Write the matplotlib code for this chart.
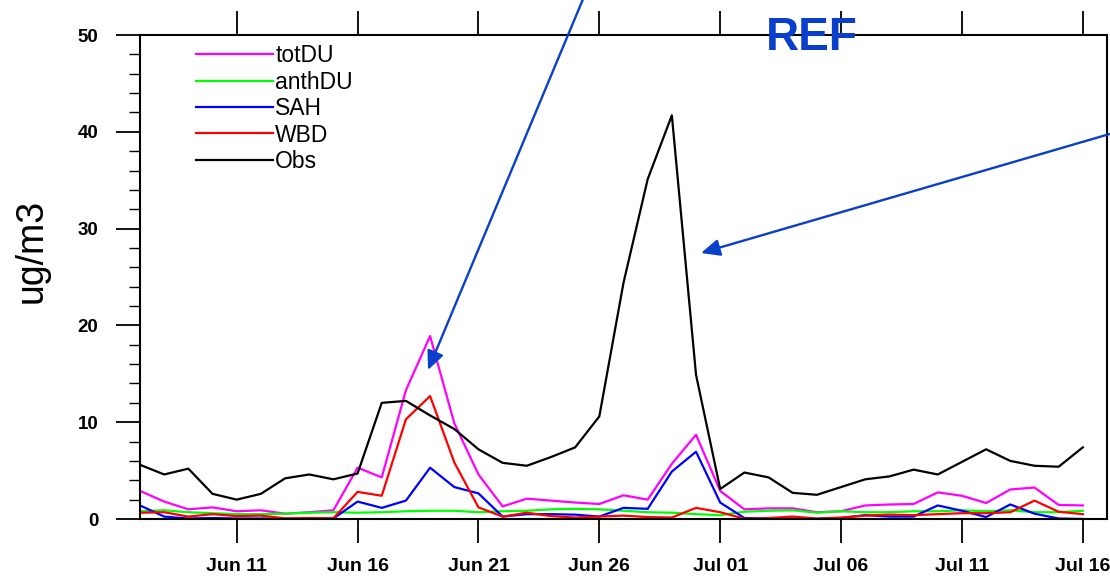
import matplotlib
matplotlib.use("Agg")
import matplotlib.pyplot as plt
import matplotlib.dates as mdates
import numpy as np
import pandas as pd

plt.rcParams['font.family'] = ['Liberation Sans', 'DejaVu Sans']

# daily values, Jun 07 .. Jul 16
dates = pd.date_range("2012-06-07", periods=40, freq="D")

obs = [5.6, 4.6, 5.2, 2.6, 2.0, 2.6, 4.2, 4.6, 4.1, 4.7,
       12.0, 12.2, 10.7, 9.3, 7.2, 5.8, 5.5, 6.4, 7.4, 10.6,
       24.4, 35.1, 41.7, 14.9, 3.1, 4.8, 4.3, 2.7, 2.5, 3.3,
       4.1, 4.4, 5.1, 4.6, 5.9, 7.2, 6.0, 5.5, 5.4, 7.4]
totdu = [2.9, 1.8, 1.0, 1.2, 0.8, 0.9, 0.55, 0.7, 0.9, 5.3,
         4.3, 13.3, 18.9, 9.9, 4.6, 1.3, 2.1, 1.9, 1.7, 1.55,
         2.45, 2.0, 5.7, 8.7, 2.9, 1.0, 1.1, 1.1, 0.7, 0.8,
         1.4, 1.5, 1.55, 2.75, 2.4, 1.65, 3.05, 3.25, 1.45, 1.4]
anthdu = [0.8, 0.9, 0.7, 0.6, 0.5, 0.5, 0.55, 0.65, 0.7, 0.65,
          0.7, 0.8, 0.85, 0.85, 0.7, 0.8, 0.85, 1.0, 1.05, 1.0,
          0.85, 0.7, 0.65, 0.5, 0.4, 0.75, 0.85, 0.9, 0.65, 0.8,
          0.7, 0.7, 0.8, 0.8, 0.9, 0.8, 0.9, 0.7, 0.7, 0.85]
sah = [1.4, 0.25, 0.05, 0.1, 0.05, 0.05, 0.02, 0.0, 0.05, 1.8,
       1.15, 1.9, 5.3, 3.3, 2.65, 0.25, 0.5, 0.5, 0.45, 0.25,
       1.15, 1.05, 4.9, 6.95, 1.7, 0.1, 0.05, 0.05, 0.0, 0.1,
       0.4, 0.25, 0.25, 1.4, 0.85, 0.2, 1.5, 0.55, 0.05, 0.0]
wbd = [0.65, 0.7, 0.25, 0.5, 0.3, 0.35, 0.07, 0.1, 0.07, 2.8,
       2.4, 10.3, 12.7, 5.85, 1.2, 0.25, 0.65, 0.3, 0.15, 0.25,
       0.35, 0.2, 0.15, 1.15, 0.7, 0.03, 0.1, 0.25, 0.05, 0.15,
       0.35, 0.45, 0.4, 0.5, 0.6, 0.6, 0.7, 1.9, 0.75, 0.5]

fig = plt.figure(figsize=(11.1, 5.79), dpi=100)
ax = fig.add_axes([140/1110, 60/579, 967/1110, 484/579])

ax.plot(dates, totdu, color='#ff00ff', lw=1.6, label='totDU')
ax.plot(dates, anthdu, color='#00ff00', lw=1.6, label='anthDU')
ax.plot(dates, sah, color='#0000ff', lw=1.6, label='SAH')
ax.plot(dates, wbd, color='#ff0000', lw=1.6, label='WBD')
ax.plot(dates, obs, color='black', lw=1.6, label='Obs')

ax.set_xlim(pd.Timestamp("2012-06-07"), pd.Timestamp("2012-07-17"))
ax.set_ylim(0, 50)

ax.xaxis.set_major_locator(mdates.DayLocator(bymonthday=[1, 6, 11, 16, 21, 26]))
ax.xaxis.set_major_formatter(mdates.DateFormatter('%b %d'))
ax.set_yticks(np.arange(0, 51, 10))
ax.set_yticks(np.arange(0, 51, 2), minor=True)

for s in ax.spines.values():
    s.set_linewidth(1.5)
ax.tick_params(axis='x', which='major', direction='out', length=17, width=1.3,
               top=True, labeltop=False, pad=11, labelsize=14)
ax.tick_params(axis='y', which='major', direction='out', length=17, width=1.3,
               pad=13, labelsize=13.5)
ax.tick_params(axis='y', which='minor', direction='out', length=8, width=1.0)
for lab in ax.get_xticklabels() + ax.get_yticklabels():
    lab.set_fontweight('bold')

fig.text(32/1110, 1 - 251/579, 'ug/m3', rotation=90, ha='center', va='center', fontsize=27)

ax.legend(loc='upper left', bbox_to_anchor=(0.058, 0.981), frameon=False,
          fontsize=16.5, handlelength=3.35, handletextpad=0.1, labelspacing=0.15,
          borderpad=0, borderaxespad=0)

# annotations
blue = '#0a3fcc'
fig.text(812/1110, 1 - 38/579, 'REF', color=blue, fontsize=33, fontweight='bold',
         ha='center', va='center')
arrow = dict(arrowstyle='-|>,head_length=0.6,head_width=0.27', color=blue, lw=1.7,
             mutation_scale=19, shrinkA=0, shrinkB=0)
ax.annotate('', xy=(428, 579 - 370), xytext=(591, 599), xycoords='figure pixels',
            textcoords='figure pixels', arrowprops=arrow, annotation_clip=False)
ax.annotate('', xy=(701, 579 - 253), xytext=(1120, 448), xycoords='figure pixels',
            textcoords='figure pixels', arrowprops=arrow, annotation_clip=False)

fig.savefig('out.png', dpi=100)
